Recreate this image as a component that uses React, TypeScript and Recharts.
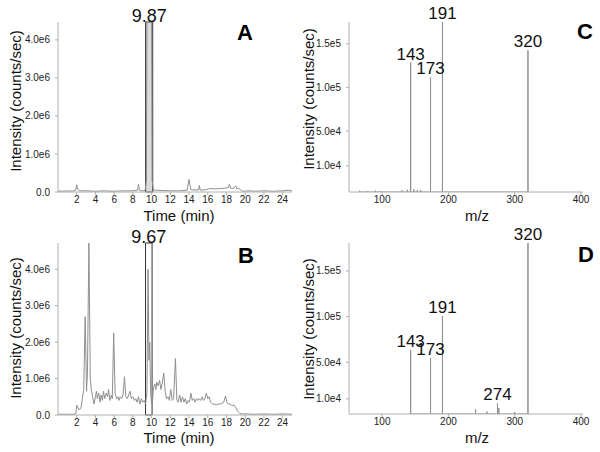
import React from "react";
import {
  LabelList,
  Line,
  LineChart,
  ReferenceArea,
  XAxis,
  YAxis,
} from "recharts";

// chromatogram A (time in min, intensity in 1e6 counts/sec)
const TIME_A = [
  0, 0.5, 1.0, 1.5, 1.9, 2.0, 2.1, 2.3, 3, 4, 5, 6, 7, 8, 8.5, 8.6, 8.7, 9.0, 9.3, 9.45,
  9.5, 10.0, 10.05, 10.2, 11, 12, 13, 13.8, 14.0, 14.1, 14.2, 15.0, 15.1, 15.2, 15.8, 16.2,
  16.8, 17.3, 17.8, 18.2, 18.3, 18.45, 18.8, 19.0, 19.1, 19.3, 19.5, 19.7, 20.5, 21, 22, 23,
  24, 24.6, 25,
];
const INT_A = [
  0.03, 0.02, 0.03, 0.02, 0.05, 0.19, 0.07, 0.03, 0.03, 0.02, 0.03, 0.02, 0.03, 0.03, 0.05,
  0.2, 0.05, 0.03, 0.04, 0.3, 4.47, 4.47, 0.3, 0.05, 0.04, 0.03, 0.03, 0.05, 0.33, 0.18, 0.06,
  0.05, 0.17, 0.05, 0.06, 0.09, 0.08, 0.09, 0.1, 0.12, 0.2, 0.1, 0.1, 0.16, 0.08, 0.1, 0.06,
  0.02, 0.03, 0.02, 0.03, 0.02, 0.03, 0.05, 0.03,
];

// chromatogram B
const TIME_B = [
  0, 0.5, 1.0, 1.5, 1.9, 2.0, 2.1, 2.2, 2.4, 2.5, 2.6, 2.75, 2.9, 3.05, 3.15, 3.3, 3.45,
  3.55, 3.7, 3.85, 4.0, 4.1, 4.2, 4.35, 4.5, 4.6, 4.75, 4.85, 5.0, 5.15, 5.3, 5.4, 5.55, 5.7,
  5.8, 5.95, 6.1, 6.25, 6.4, 6.5, 6.65, 6.8, 6.95, 7.1, 7.25, 7.4, 7.55, 7.7, 7.85, 8.0, 8.15,
  8.3, 8.45, 8.6, 8.75, 8.9, 9.05, 9.2, 9.35, 9.5, 9.62, 9.72, 9.8, 9.9, 10.0, 10.1, 10.2,
  10.35, 10.45, 10.55, 10.7, 10.85, 11.0, 11.15, 11.3, 11.45, 11.6, 11.75, 11.9, 12.05, 12.2,
  12.35, 12.55, 12.7, 12.85, 13.0, 13.15, 13.3, 13.45, 13.6, 13.75, 13.9, 14.05, 14.2, 14.35,
  14.5, 14.65, 14.8, 14.95, 15.1, 15.25, 15.4, 15.55, 15.7, 15.85, 16.0, 16.15, 16.3, 16.5,
  16.7, 16.9, 17.1, 17.3, 17.5, 17.7, 17.9, 18.05, 18.2, 18.4, 18.6, 18.8, 19.0, 19.2, 19.4,
  19.6, 20, 21, 22, 23, 24, 25,
];
const INT_B = [
  0.02, 0.02, 0.02, 0.02, 0.03, 0.27, 0.22, 0.15, 0.17, 0.25, 0.45, 0.7, 2.7, 0.65, 1.2, 4.72,
  1.0, 0.7, 0.5, 0.3, 0.5, 0.65, 0.45, 0.6, 0.35, 0.55, 0.4, 0.65, 0.45, 0.6, 0.5, 0.7, 0.4,
  0.55, 0.45, 2.25, 0.6, 0.45, 0.5, 0.4, 0.5, 0.45, 0.55, 1.05, 0.5, 0.45, 0.55, 0.65, 0.45,
  0.5, 0.4, 0.45, 0.35, 0.5, 0.3, 0.45, 0.35, 0.4, 0.3, 0.6, 4.0, 1.5, 2.0, 0.6, 0.3, 0.4,
  0.75, 0.85, 0.7, 0.9, 0.8, 0.95, 0.7, 0.9, 1.15, 0.65, 0.45, 0.5, 0.4, 0.7, 0.4, 0.45, 1.55,
  0.4, 0.35, 0.55, 0.35, 0.5, 0.35, 0.45, 0.3, 0.4, 0.35, 0.6, 0.4, 0.45, 0.35, 0.45, 0.4,
  0.45, 0.4, 0.5, 0.4, 0.45, 0.6, 0.45, 0.5, 0.35, 0.3, 0.3, 0.28, 0.3, 0.3, 0.32, 0.35, 0.52,
  0.35, 0.3, 0.3, 0.25, 0.28, 0.2, 0.1, 0.05, 0.03, 0.03, 0.02, 0.03, 0.02, 0.03, 0.02,
];

const TIME_TICKS = [2, 4, 6, 8, 10, 12, 14, 16, 18, 20, 22, 24];
const INT_TICKS = [0, 1, 2, 3, 4];

// mass spectra (m/z, intensity in counts/sec)
const MZ_C = [66, 78, 90, 97, 130, 138, 143, 148, 153, 158, 173, 191, 320];
const INT_C = [
  -18500, -18800, -18500, -18800, -18000, -17500, 128500, -17000, -18000, -17500, 111500,
  175000, 142500,
];
const PEAKS_C = [143, 173, 191, 320];

const MZ_D = [143, 173, 191, 241, 258, 274, 276, 300, 320];
const INT_D = [63500, 54700, 100700, -1500, -4000, 5000, 0, -4500, 180500];
const PEAKS_D = [143, 173, 191, 274, 320];

const MZ_TICKS = [100, 200, 300, 400];
const SPEC_TICKS = [10000, 50000, 100000, 150000];

const FONT = "'Liberation Sans', Arial, Helvetica, sans-serif";
const TRACE = "#8f8f8f";
const AXIS = "#b0b0b0";

function sticks(mz: number[], vals: number[], peaks: number[], floor: number) {
  return mz.flatMap((m, i) => [
    { mz: m, v: floor, tag: "" },
    { mz: m, v: vals[i], tag: peaks.includes(m) ? String(m) : "" },
    { mz: m, v: floor, tag: "" },
  ]);
}

function Chromatogram({
  times,
  values,
  yMax,
  box,
  boxLabel,
  boxFill,
  top,
  xAxisH,
}: {
  times: number[];
  values: number[];
  yMax: number;
  box: [number, number];
  boxLabel: string;
  boxFill: string;
  top: number;
  xAxisH: number;
}) {
  const data = times.map((t, i) => ({ t, v: values[i] }));
  return (
    <LineChart
      width={300}
      height={226}
      data={data}
      margin={{ top, right: 8, bottom: 0, left: 0 }}
      style={{ fontFamily: FONT }}
    >
      <XAxis
        dataKey="t"
        type="number"
        domain={[0, 25]}
        ticks={TIME_TICKS}
        height={xAxisH}
        tickSize={3}
        tickMargin={1}
        stroke={AXIS}
        tick={{ fill: "#222", fontSize: 10 }}
      />
      <YAxis
        type="number"
        domain={[0, yMax]}
        ticks={INT_TICKS}
        width={58}
        tickSize={3}
        tickMargin={5}
        stroke={AXIS}
        allowDataOverflow
        tick={{ fill: "#222", fontSize: 10 }}
        tickFormatter={(v: number) => (v === 0 ? "0.0" : `${v.toFixed(1)}e6`)}
      />
      <ReferenceArea
        x1={box[0]}
        x2={box[1]}
        y1={0}
        y2={yMax}
        fill={boxFill}
        fillOpacity={1}
        stroke="#333"
        strokeWidth={1}
        label={{ value: boxLabel, position: "top", offset: 0, fontSize: 18, fill: "#111" }}
      />
      <Line
        dataKey="v"
        type="linear"
        stroke={TRACE}
        strokeWidth={1}
        dot={false}
        isAnimationActive={false}
      />
    </LineChart>
  );
}

function Spectrum({
  mz,
  values,
  peaks,
  floor,
  yMax,
  top,
  xAxisH,
}: {
  mz: number[];
  values: number[];
  peaks: number[];
  floor: number;
  yMax: number;
  top: number;
  xAxisH: number;
}) {
  const data = sticks(mz, values, peaks, floor);
  return (
    <LineChart
      width={300}
      height={226}
      data={data}
      margin={{ top, right: 17, bottom: 0, left: 0 }}
      style={{ fontFamily: FONT }}
    >
      <XAxis
        dataKey="mz"
        type="number"
        domain={[50, 403]}
        ticks={MZ_TICKS}
        height={xAxisH}
        tickSize={3}
        tickMargin={1}
        stroke={AXIS}
        tick={{ fill: "#222", fontSize: 10 }}
      />
      <YAxis
        type="number"
        domain={[floor, yMax]}
        ticks={SPEC_TICKS}
        width={49}
        tickSize={3}
        tickMargin={5}
        stroke={AXIS}
        allowDataOverflow
        tick={{ fill: "#222", fontSize: 10 }}
        tickFormatter={(v: number) => v.toExponential(1).replace("+", "")}
      />
      <Line
        dataKey="v"
        type="linear"
        stroke={TRACE}
        strokeWidth={1}
        dot={false}
        isAnimationActive={false}
      >
        <LabelList
          dataKey="tag"
          content={(p: any) =>
            p.value ? (
              <text
                x={p.x}
                y={p.y - 3}
                textAnchor="middle"
                fontSize={17}
                fill="#111"
                fontFamily={FONT}
              >
                {p.value}
              </text>
            ) : null
          }
        />
      </Line>
    </LineChart>
  );
}

const yTitle = "Intensity (counts/sec)";

export default function App() {
  const cell = (left: number, top: number): React.CSSProperties => ({
    position: "absolute",
    left,
    top,
    width: 300,
    height: 226,
  });
  return (
    <div
      style={{
        position: "absolute",
        left: 0,
        top: 0,
        width: 600,
        height: 452,
        background: "#fff",
        fontFamily: FONT,
      }}
    >
      <div style={cell(0, 0)}>
        <Chromatogram
          times={TIME_A}
          values={INT_A}
          yMax={4.47}
          box={[9.36, 10.12]}
          boxLabel="9.87"
          boxFill="#dcdcdc"
          top={22}
          xAxisH={34}
        />
      </div>
      <div style={cell(0, 226)}>
        <Chromatogram
          times={TIME_B}
          values={INT_B}
          yMax={4.72}
          box={[9.35, 10.05]}
          boxLabel="9.67"
          boxFill="none"
          top={17}
          xAxisH={37}
        />
      </div>
      <div style={cell(300, 0)}>
        <Spectrum
          mz={MZ_C}
          values={INT_C}
          peaks={PEAKS_C}
          floor={-20000}
          yMax={175000}
          top={22}
          xAxisH={34}
        />
      </div>
      <div style={cell(300, 226)}>
        <Spectrum
          mz={MZ_D}
          values={INT_D}
          peaks={PEAKS_D}
          floor={-6600}
          yMax={180500}
          top={17}
          xAxisH={38}
        />
      </div>
      <svg
        width={600}
        height={452}
        style={{ position: "absolute", left: 0, top: 0, pointerEvents: "none" }}
        fontFamily={FONT}
      >
        <text transform="translate(20.5,101) rotate(-90)" textAnchor="middle" fontSize={15} fill="#111">
          {yTitle}
        </text>
        <text transform="translate(20.5,328) rotate(-90)" textAnchor="middle" fontSize={15} fill="#111">
          {yTitle}
        </text>
        <text transform="translate(314,99) rotate(-90)" textAnchor="middle" fontSize={15} fill="#111">
          {yTitle}
        </text>
        <text transform="translate(314,329) rotate(-90)" textAnchor="middle" fontSize={15} fill="#111">
          {yTitle}
        </text>
        <text x={179} y={221} textAnchor="middle" fontSize={15} fill="#111">
          Time (min)
        </text>
        <text x={179} y={443} textAnchor="middle" fontSize={15} fill="#111">
          Time (min)
        </text>
        <text x={477} y={221} textAnchor="middle" fontSize={15} fill="#111">
          m/z
        </text>
        <text x={477} y={443} textAnchor="middle" fontSize={15} fill="#111">
          m/z
        </text>
        <text x={245} y={40} textAnchor="middle" fontSize={22} fontWeight="bold" fill="#000">
          A
        </text>
        <text x={246} y={263} textAnchor="middle" fontSize={22} fontWeight="bold" fill="#000">
          B
        </text>
        <text x={585} y={39} textAnchor="middle" fontSize={22} fontWeight="bold" fill="#000">
          C
        </text>
        <text x={586} y={262} textAnchor="middle" fontSize={22} fontWeight="bold" fill="#000">
          D
        </text>
      </svg>
    </div>
  );
}
